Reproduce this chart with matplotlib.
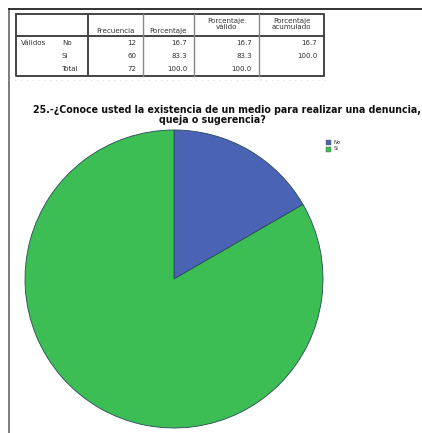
import matplotlib
matplotlib.use("Agg")
import matplotlib.pyplot as plt

# ---- data ----
categories = ["No", "Si"]
frecuencia = [12, 60]
porcentaje = ["16.7", "83.3"]
porc_valido = ["16.7", "83.3"]
porc_acumulado = ["16.7", "100.0"]
total_label = "Total"
total_frec = "72"
total_pct = "100.0"
col_headers = ["Frecuencia", "Porcentaje", "Porcentaje\nválido", "Porcentaje\nacumulado"]
row_group = "Válidos"
title_line1 = "25.-¿Conoce usted la existencia de un medio para realizar una denuncia,"
title_line2 = "queja o sugerencia?"
colors = ["#4B63B5", "#3DBE55"]

W, H = 422, 433
fig = plt.figure(figsize=(W / 100, H / 100), dpi=100)
ax = fig.add_axes([0, 0, 1, 1])
ax.set_xlim(0, W)
ax.set_ylim(0, H)
ax.axis("off")

def Y(y):
    return H - y

# outer frame
ax.plot([9, 9], [Y(9), Y(433)], color="#666666", lw=1.2)
ax.plot([9, W], [Y(9), Y(9)], color="#111111", lw=1.2)

# ---- table ----
xs = [16, 88, 143, 194, 259, 324]
y_top, y_head, y_bot = 14, 36, 76
tc = "#333333"
fs = 5.1
# outer border
ax.plot([xs[0], xs[-1], xs[-1], xs[0], xs[0]],
        [Y(y_top), Y(y_top), Y(y_bot), Y(y_bot), Y(y_top)], color="#444444", lw=1.4)
ax.plot([xs[0], xs[-1]], [Y(y_head), Y(y_head)], color="#444444", lw=1.4)
ax.plot([xs[1], xs[1]], [Y(y_top), Y(y_bot)], color="#444444", lw=1.4)
for x in xs[2:-1]:
    ax.plot([x, x], [Y(y_top), Y(y_bot)], color="#888888", lw=1.0)

# headers
for i, h in enumerate(col_headers):
    cx = (xs[i + 1] + xs[i + 2]) / 2
    yy = 31 if "\n" not in h else 24
    ax.text(cx, Y(yy), h, ha="center", va="center", fontsize=fs, color=tc, linespacing=0.95)

row_ys = [43, 56, 69]
ax.text(21, Y(row_ys[0]), row_group, ha="left", va="center", fontsize=fs, color=tc)
labels = categories + [total_label]
col1 = [str(v) for v in frecuencia] + [total_frec]
col2 = porcentaje + [total_pct]
col3 = porc_valido + [total_pct]
col4 = porc_acumulado + [""]
for r, yy in enumerate(row_ys):
    ax.text(62, Y(yy), labels[r], ha="left", va="center", fontsize=fs, color=tc)
    for ci, col in enumerate([col1, col2, col3, col4]):
        ax.text(xs[ci + 2] - 7, Y(yy), col[r], ha="right", va="center", fontsize=fs, color=tc)

# faint dotted line below table
ax.plot([9, 330], [Y(80), Y(80)], color="#cccccc", lw=0.6, ls=(0, (1, 6)))

# ---- title ----
ax.text(33, Y(110), title_line1, ha="left", va="center", fontsize=6.85,
        fontweight="bold", color="#111111")
ax.text(212, Y(120), title_line2, ha="center", va="center", fontsize=6.85,
        fontweight="bold", color="#111111")

# ---- pie ----
ax.pie(frecuencia, colors=colors, startangle=90, counterclock=False,
       center=(174, Y(279)), radius=149, frame=True,
       wedgeprops=dict(edgecolor="#264a5a", linewidth=0.6))
ax.set_xlim(0, W)
ax.set_ylim(0, H)
ax.axis("off")

# ---- legend ----
for i, (c, lab) in enumerate(zip(colors, categories)):
    yy = 142 + i * 7
    ax.add_patch(plt.Rectangle((326, Y(yy) - 2.5), 5, 5, facecolor=c, edgecolor="#555555", lw=0.3))
    ax.text(334, Y(yy), lab, ha="left", va="center", fontsize=3.8, color="#333333")

fig.savefig("out.png", dpi=100)
